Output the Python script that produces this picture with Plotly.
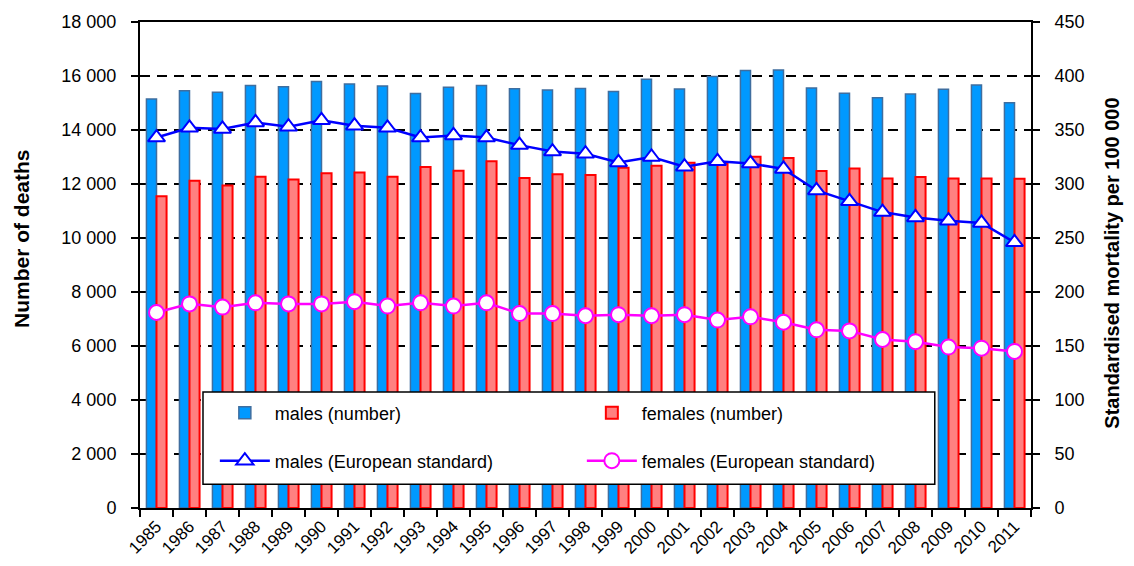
import plotly.graph_objects as go

years = ["1985", "1986", "1987", "1988", "1989", "1990", "1991", "1992", "1993",
         "1994", "1995", "1996", "1997", "1998", "1999", "2000", "2001", "2002",
         "2003", "2004", "2005", "2006", "2007", "2008", "2009", "2010", "2011"]

males_number = [15150, 15450, 15400, 15650, 15600, 15800, 15700, 15630, 15350,
                15580, 15650, 15530, 15480, 15540, 15430, 15880, 15520, 15980,
                16200, 16220, 15560, 15360, 15190, 15330, 15510, 15670, 15010]

females_number = [11550, 12120, 11940, 12270, 12170, 12400, 12430, 12270, 12630,
                  12490, 12840, 12220, 12360, 12330, 12600, 12680, 12790, 12770,
                  13010, 12960, 12480, 12570, 12200, 12260, 12200, 12200, 12190]

males_std = [343, 352, 351, 357, 353, 359, 354, 352, 343,
             345, 343, 336, 330, 328, 320, 325, 316, 321,
             319, 314, 294, 284, 274, 269, 266, 264, 246]

females_std = [181, 189, 186, 190, 189, 189, 191, 187, 190,
               187, 190, 180, 180, 178, 179, 178, 179, 174,
               177, 172, 165, 164, 156, 154, 149, 148, 145]

FONT = "Liberation Sans, Arial, sans-serif"

fig = go.Figure()
fig.add_trace(go.Bar(
    x=years, y=males_number, name="males (number)",
    marker=dict(color="#0099FF", line=dict(color="#3F6E9F", width=1.5)),
    legend="legend"))
fig.add_trace(go.Bar(
    x=years, y=females_number, name="females (number)",
    marker=dict(color="#FF8080", line=dict(color="#FF0000", width=2)),
    legend="legend"))
fig.add_trace(go.Scatter(
    x=years, y=males_std, name="males (European standard)", yaxis="y2",
    mode="lines+markers", line=dict(color="#0000FF", width=2.5),
    marker=dict(symbol="triangle-up", size=15, color="white",
                line=dict(color="#0000FF", width=2)),
    legend="legend2"))
fig.add_trace(go.Scatter(
    x=years, y=females_std, name="females (European standard)", yaxis="y2",
    mode="lines+markers", line=dict(color="#FF00FF", width=2.5),
    marker=dict(symbol="circle", size=15, color="white",
                line=dict(color="#FF00FF", width=2)),
    legend="legend2"))

axis_common = dict(showline=True, linecolor="black", linewidth=2,
                   ticks="outside", ticklen=7, tickwidth=2, tickcolor="black",
                   zeroline=False, automargin=False)

legend_common = dict(orientation="h", xanchor="left", yanchor="middle",
                     entrywidth=302, entrywidthmode="pixels",
                     bgcolor="rgba(0,0,0,0)", borderwidth=0,
                     font=dict(family=FONT, size=18, color="black"),
                     itemwidth=50, traceorder="normal")

fig.update_layout(
    width=1118, height=550,
    margin=dict(l=132, r=95, t=14, b=50, pad=0, autoexpand=False),
    paper_bgcolor="white", plot_bgcolor="white",
    separators=". ",
    barmode="group", bargap=0.39, bargroupgap=0,
    font=dict(family=FONT, size=18, color="black"),
    xaxis=dict(type="category", range=[-0.5, len(years) - 0.5],
               tickson="boundaries", tickangle=-45,
               mirror=True, showgrid=False, ticklabelstandoff=0,
               tickfont=dict(family=FONT, size=17, color="black"),
               **axis_common),
    yaxis=dict(range=[0, 18000], dtick=2000, tickformat=",d",
               showgrid=True, gridcolor="black", gridwidth=2,
               griddash="10px,7px", ticklabelstandoff=11,
               tickfont=dict(family=FONT, size=18, color="black"),
               **axis_common),
    yaxis2=dict(range=[0, 450], dtick=50, overlaying="y", side="right",
                showgrid=False, ticklabelstandoff=11,
                tickfont=dict(family=FONT, size=18, color="black"),
                **axis_common),
    yaxis3=dict(range=[0, 18000], dtick=2000, overlaying="y", side="left",
                ticks="inside", ticklen=7, tickwidth=2, tickcolor="black",
                showticklabels=False, showgrid=False, zeroline=False,
                showline=False, automargin=False),
    yaxis4=dict(range=[0, 450], dtick=50, overlaying="y", side="right",
                ticks="inside", ticklen=7, tickwidth=2, tickcolor="black",
                showticklabels=False, showgrid=False, zeroline=False,
                showline=False, automargin=False),
    legend=dict(x=0.084, y=0.1955, **legend_common),
    legend2=dict(x=0.084, y=0.0967, **legend_common),
    shapes=[dict(type="rect", xref="paper", yref="paper",
                 x0=0.0707, x1=0.892, y0=0.049, y1=0.2387,
                 fillcolor="white", line=dict(color="black", width=1.5),
                 layer="above")],
    annotations=[
        dict(text="<b>Number of deaths</b>", xref="paper", yref="paper",
             x=-0.1324, y=0.5535, textangle=-90, showarrow=False,
             xanchor="center", yanchor="middle",
             font=dict(family=FONT, size=21, color="black")),
        dict(text="<b>Standardised mortality per 100 000</b>", xref="paper",
             yref="paper", x=1.0905, y=0.504, textangle=-90, showarrow=False,
             xanchor="center", yanchor="middle",
             font=dict(family=FONT, size=20, color="black")),
    ],
)

fig.write_html("out.html")
